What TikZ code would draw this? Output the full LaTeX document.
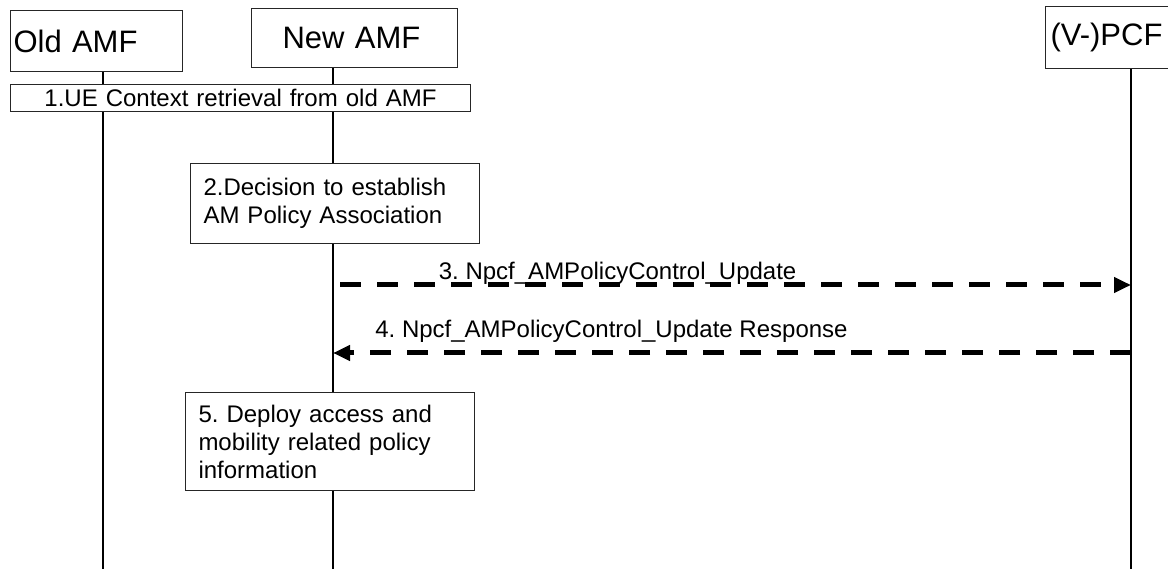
\documentclass[tikz,border=0pt]{standalone}
\usepackage{fontspec}
\setmainfont{Liberation Sans}
\frenchspacing
\usetikzlibrary{arrows.meta, positioning}
\tikzset{
    seqdiag/.style={
        x=1pt, y=-1pt,
        font=\fontsize{24}{28}\selectfont,
        >={Triangle[length=17pt, width=15pt]},
        entity/.style={draw=black!85, line width=1pt, fill=white, anchor=north west, align=left, inner ysep=0pt, font=\fontsize{31}{36}\selectfont},
        stepbox/.style={draw=black!85, line width=1pt, fill=white, anchor=north west, align=left, inner xsep=13pt, inner ysep=0pt},
        lifeline/.style={line width=1.2pt, black},
        msg/.style={line width=5pt, dash pattern=on 21pt off 16pt, ->}
    }
}

\begin{document}
\begin{tikzpicture}[seqdiag]
        \useasboundingbox[fill=white] (0,0) rectangle (1168,569);

        % Entities
        \node[entity, text width=166pt, inner xsep=3pt, minimum height=61pt] (oldamf) at (10,10) {Old AMF};
        \node[entity, text width=144pt, inner xsep=31pt, minimum height=59pt] (newamf) at (251,8) {New AMF};
        \node[entity, text width=120pt, inner xsep=5pt, minimum height=62pt] (pcf) at (1045,6) {(V-)PCF};

        % Lifelines
        \coordinate (oldend) at (103,569);
        \coordinate (newend) at (333,569);
        \coordinate (pcfend) at (1131,569);
        \draw[lifeline] (oldamf.south -| oldend) -- (oldend);
        \draw[lifeline] (newamf.south -| newend) -- (newend);
        \draw[lifeline] (pcf.south -| pcfend) -- (pcfend);

        % Steps
        \node[stepbox, align=center, text width=434pt, minimum height=27pt] (ctx) at (10,84) {1.UE Context retrieval from old AMF};
        \node[stepbox, text width=263pt, minimum height=80pt] (decide) at (190,163) {2.Decision to establish\\AM Policy Association};
        \node[stepbox, text width=263pt, minimum height=98pt] (deploy) at (185,392) {5. Deploy access and\\mobility related policy\\information};

        % Messages
        \coordinate (updreq) at (340,285);
        \coordinate (updrsp) at (333,353);
        \draw[msg] (updreq) -- (updreq -| pcfend)
            node[pos=0.351, anchor=base, yshift=5pt] {3. Npcf\_AMPolicyControl\_Update};
        \draw[msg] (updrsp -| pcfend) -- (updrsp)
            node[pos=0.651, anchor=base, yshift=15pt] {4. Npcf\_AMPolicyControl\_Update Response};

    \end{tikzpicture}
\end{document}
